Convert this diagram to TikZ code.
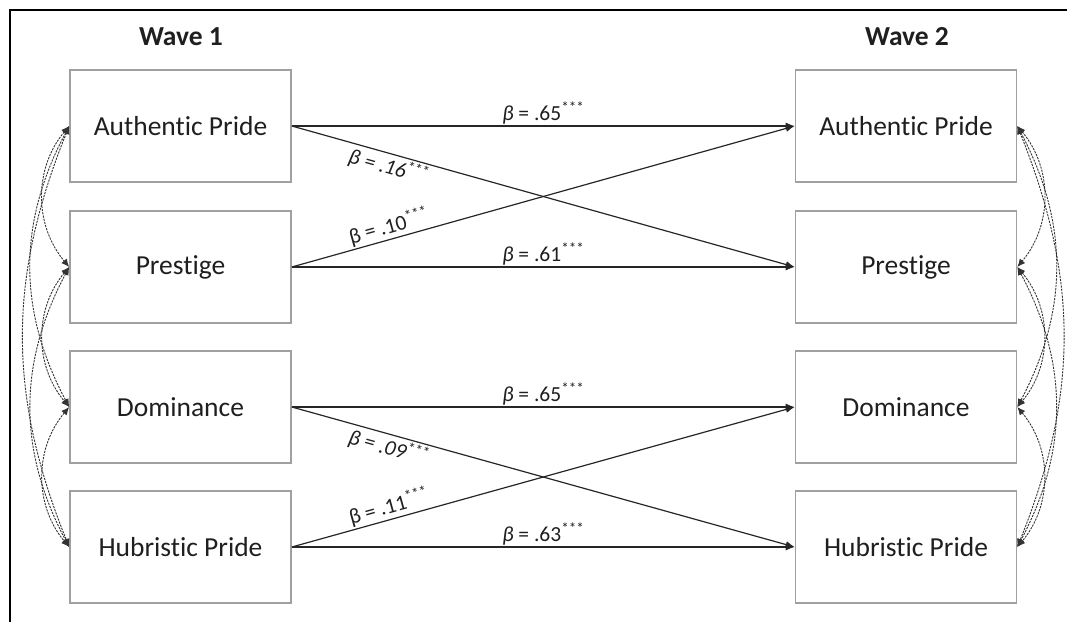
\documentclass[tikz,border=0pt]{standalone}
\usepackage{fontspec}
\setmainfont{Carlito}[Ligatures=NoCommon]
\usetikzlibrary{arrows.meta}
\definecolor{boxgray}{HTML}{A0A0A0}
\begin{document}
\begin{tikzpicture}[x=1pt,y=-1pt,
 box/.style={draw=boxgray, line width=1.6pt, minimum width=221pt, minimum height=112pt, inner sep=0pt, font=\fontsize{27.5}{32}\selectfont, text=black!88},
 regpath/.style={draw=black!85, line width=1.2pt, -{Latex[length=9pt,width=7pt]}},
 lab/.style={font=\fontsize{21.5}{24}\selectfont, inner sep=1.5pt, text=black!88},
 cov/.style={draw=black!80, line width=0.9pt, dash pattern=on 2.2pt off 1.1pt, {Latex[length=8pt,width=7pt]}-{Latex[length=8pt,width=7pt]}},
 wave/.style={font=\bfseries\fontsize{27.5}{32}\selectfont, text=black!88},
]
\useasboundingbox (0,0) rectangle (1067,622);
\draw[line width=2pt, black] (10,622) -- (10,10) -- (1067,10);

\node[wave] (w1) at (181,37) {Wave 1};
\node[wave] (w2) at (907,37) {Wave 2};

\node[box] (l1) at (180.5,126) {Authentic Pride};
\node[box] (l2) at (180.5,267) {Prestige};
\node[box] (l3) at (180.5,407) {Dominance};
\node[box] (l4) at (180.5,547) {Hubristic Pride};
\node[box] (r1) at (906,126) {Authentic Pride};
\node[box] (r2) at (906,267) {Prestige};
\node[box] (r3) at (906,407) {Dominance};
\node[box] (r4) at (906,547) {Hubristic Pride};

\draw[regpath] (l1.east) -- node[lab, above] (b1) {\textit{β} = .65\textsuperscript{***}} (r1.west);
\draw[regpath] (l2.east) -- node[lab, above] (b2) {\textit{β} = .61\textsuperscript{***}} (r2.west);
\draw[regpath] (l1.east) -- node[lab, sloped, below, pos=0.2] (b3) {\textit{β = .16}\textsuperscript{***}} (r2.west);
\draw[regpath] (l2.east) -- node[lab, sloped, above, pos=0.2] (b4) {β = .10\textsuperscript{***}} (r1.west);

\draw[regpath] (l3.east) -- node[lab, above] (b5) {\textit{β} = .65\textsuperscript{***}} (r3.west);
\draw[regpath] (l4.east) -- node[lab, above] (b6) {\textit{β} = .63\textsuperscript{***}} (r4.west);
\draw[regpath] (l3.east) -- node[lab, sloped, below, pos=0.2] (b7) {\textit{β = .09}\textsuperscript{***}} (r4.west);
\draw[regpath] (l4.east) -- node[lab, sloped, above, pos=0.2] (b8) {β = .11\textsuperscript{***}} (r3.west);

\draw[cov] (l1.west) to[bend right=40] (l2.west);
\draw[cov] (l2.west) to[bend right=40] (l3.west);
\draw[cov] (l3.west) to[bend right=40] (l4.west);
\draw[cov] (l1.west) to[bend right=28] (l3.west);
\draw[cov] (l2.west) to[bend right=28] (l4.west);
\draw[cov] (l1.west) to[bend right=22] (l4.west);

\draw[cov] (r1.east) to[bend left=40] (r2.east);
\draw[cov] (r2.east) to[bend left=40] (r3.east);
\draw[cov] (r3.east) to[bend left=40] (r4.east);
\draw[cov] (r1.east) to[bend left=28] (r3.east);
\draw[cov] (r2.east) to[bend left=28] (r4.east);
\draw[cov] (r1.east) to[bend left=22] (r4.east);
\end{tikzpicture}
\end{document}
